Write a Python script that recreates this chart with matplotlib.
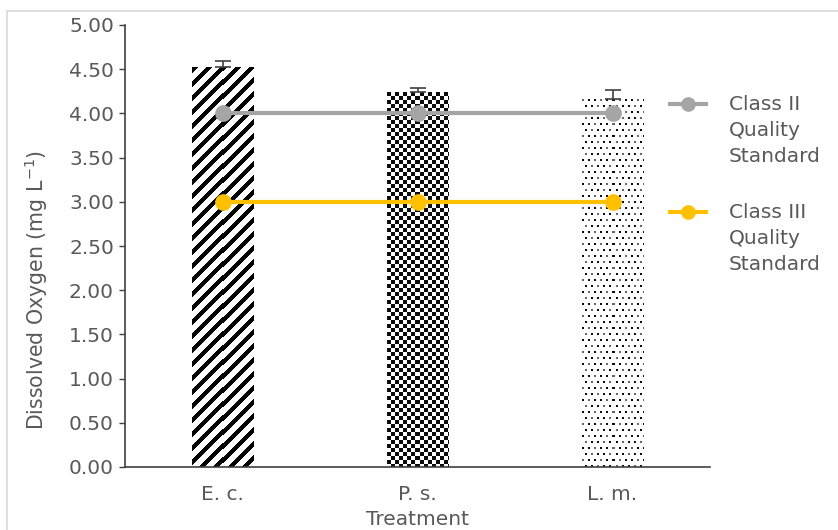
import numpy as np
import matplotlib
matplotlib.use('Agg')
import matplotlib.pyplot as plt
from matplotlib.lines import Line2D
from matplotlib.patches import Rectangle

# data
treatments = ['E. c.', 'P. s.', 'L. m.']
do_mean = [4.52, 4.24, 4.16]
do_err = [0.07, 0.05, 0.11]
class2 = [4.0, 4.0, 4.0]
class3 = [3.0, 3.0, 3.0]
series_names = ['Class II\nQuality\nStandard', 'Class III\nQuality\nStandard']

txt = '#595959'
plt.rcParams['font.family'] = ['DejaVu Sans']
plt.rcParams['font.size'] = 14.5

W, H = 838, 530
fig = plt.figure(figsize=(W / 100, H / 100), dpi=100)
ax = fig.add_axes([125 / W, (H - 467) / H, (710 - 125) / W, (467 - 25) / H])
ax.set_xlim(-0.5, 2.5)
ax.set_ylim(0, 5)
ax.set_autoscale_on(False)

x = np.arange(len(treatments))
bars = ax.bar(x, do_mean, width=0.313, color='white', edgecolor='none', zorder=2)

# textures clipped to each bar (stripes, checker, dots)
def texture(kind, h, w):
    i, j = np.mgrid[0:h, 0:w]
    img = np.ones((h, w))
    if kind == 'stripes':
        img[(i + j) % 14 < 6] = 0.0
    elif kind == 'checker':
        img[(i // 4 + j // 4) % 2 == 0] = 0.05
    else:
        shift = 3 * ((i // 6) % 2)
        mask = (i % 6 < 2) & ((j + shift) % 6 < 2)
        shade = np.where((i // 6 + j // 6) % 3 == 0, 0.4, 0.05)
        img[mask] = shade[mask]
    return img

for b, kind in zip(bars, ['stripes', 'checker', 'dots']):
    bb = b.get_window_extent()
    img = texture(kind, int(round(bb.height)), int(round(bb.width)))
    x0 = b.get_x()
    im = ax.imshow(img, cmap='gray', vmin=0, vmax=1, interpolation='nearest',
                   aspect='auto', extent=(x0, x0 + b.get_width(), 0, b.get_height()),
                   zorder=2.1)
    im.set_clip_path(b)

ax.errorbar(x, do_mean, yerr=[[0] * 3, do_err], fmt='none', ecolor='#404040',
            elinewidth=1.2, capsize=6, capthick=1.2, zorder=3)

ax.plot(x, class2, color='#a5a5a5', lw=3, marker='o', ms=11, zorder=4)
ax.plot(x, class3, color='#ffc000', lw=3, marker='o', ms=11, zorder=4)
ax.set_xlim(-0.5, 2.5)
ax.set_ylim(0, 5)

ax.set_xticks(x)
ax.set_xticklabels(treatments)
ax.set_yticks(np.arange(0, 5.01, 0.5))
ax.set_yticklabels(['%.2f' % v for v in np.arange(0, 5.01, 0.5)])
ax.tick_params(axis='y', direction='out', length=4, width=1, color='#404040',
               pad=4, labelcolor=txt)
ax.tick_params(axis='x', length=0, pad=13, labelcolor=txt)
for s in ['top', 'right']:
    ax.spines[s].set_visible(False)
for s in ['left', 'bottom']:
    ax.spines[s].set_color('#404040')
    ax.spines[s].set_linewidth(1.2)
ax.set_ylabel('Dissolved Oxygen (mg L$^{\\mathregular{-1}}$)', color=txt, fontsize=14.8)
ax.yaxis.set_label_coords(-0.128, 0.40)
ax.set_xlabel('Treatment', color=txt, labelpad=4.5)

# legend drawn by hand, handle next to first line of each label
for name, col, y0 in zip(series_names, ['#a5a5a5', '#ffc000'], [104, 212]):
    yf = 1 - y0 / H
    fig.add_artist(Line2D([670 / W, 706 / W], [yf, yf], color=col, lw=3,
                          transform=fig.transFigure))
    fig.add_artist(Line2D([688 / W], [yf], color=col, marker='o', ms=9.5,
                          transform=fig.transFigure))
    for k, line in enumerate(name.split('\n')):
        fig.text(729 / W, 1 - (y0 + 26.5 * k) / H, line, color=txt,
                 va='center', ha='left', fontsize=14.5)

# light chart border
fig.add_artist(Rectangle((7 / W, -0.1), 1.2, 1.1 - 11 / H, fill=False,
                         edgecolor='#d9d9d9', lw=1.2, transform=fig.transFigure))

fig.savefig('out.png', dpi=100)
